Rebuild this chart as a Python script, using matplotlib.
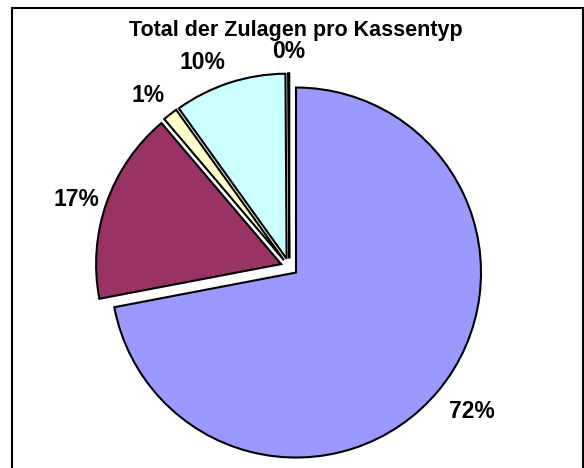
import numpy as np
import matplotlib.pyplot as plt
from matplotlib.patches import Rectangle

# Daten
kassentyp = ["Typ A", "Typ B", "Typ C", "Typ D", "Typ E"]
anteile = [72.0, 16.8, 1.3, 9.8, 0.1]
farben = ["#9999FF", "#993366", "#FFFFCC", "#CCFFFF", "#660066"]
titel = "Total der Zulagen pro Kassentyp"

# Label-Abstand (relativ zum Radius) und kleine Winkelkorrektur in Grad
label_abstand = [1.25, 1.21, 1.21, 1.21, 1.18]
label_winkel = [1.7, 1.1, 1.2, 4.7, 0.0]

plt.rcParams['font.family'] = ['Liberation Sans', 'DejaVu Sans']

W, H = 584, 468
R = 185.0            # Radius in Pixel
cx, cy = 289.3, 267  # Kreismitte in Pixel (von oben links)

fig = plt.figure(figsize=(W / 100, H / 100), dpi=100)
ax = fig.add_axes([0, 0, 1, 1])

wedges, texts = ax.pie(anteile, colors=farben, startangle=90, counterclock=False,
                       explode=[0.047] * len(anteile), radius=1,
                       labels=[f"{v:.0f}%" for v in anteile],
                       wedgeprops=dict(edgecolor="black", linewidth=1.5))

# Labels neu setzen
for w, t, r, dw in zip(wedges, texts, label_abstand, label_winkel):
    mitte = np.deg2rad((w.theta1 + w.theta2) / 2 + dw)
    t.set_position((r * np.cos(mitte), r * np.sin(mitte)))
    t.set_ha("center")
    t.set_va("center_baseline")
    t.set_fontsize(16.5)
    t.set_fontweight("bold")

ax.set_aspect("auto")
ax.set_xlim(-cx / R, (W - cx) / R)
ax.set_ylim(-(H - cy) / R, cy / R)
ax.axis("off")

fig.text(295.5 / W, 1 - 36 / H, titel, ha="center", va="baseline",
         fontsize=15.5, fontweight="bold")

# Rahmen
fig.patches.append(Rectangle((12 / W, -0.05), (583 - 12) / W, 1.05 - 8 / H,
                             transform=fig.transFigure, fill=False,
                             edgecolor="black", linewidth=1.5))

fig.savefig("out.png", dpi=100, facecolor="white")
